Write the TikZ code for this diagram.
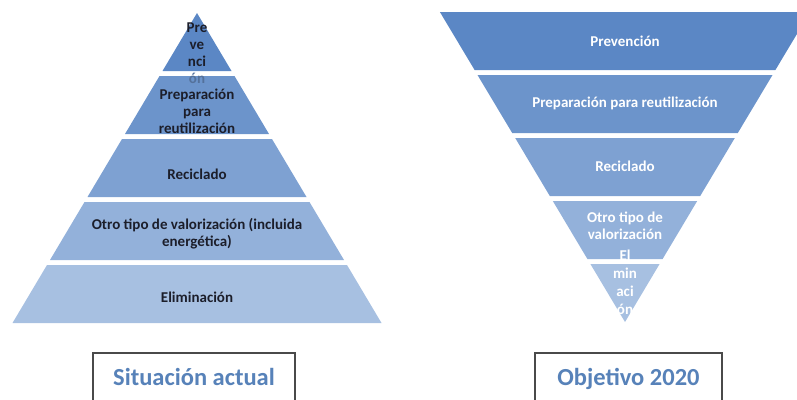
\documentclass[tikz,border=0pt]{standalone}
\usepackage{fontspec}
\setmainfont{Carlito}
\definecolor{lA}{HTML}{5B87C5}
\definecolor{lB}{HTML}{6C94CB}
\definecolor{lC}{HTML}{7EA1D2}
\definecolor{lD}{HTML}{93B1DA}
\definecolor{lE}{HTML}{A7C0E1}
\definecolor{darktxt}{HTML}{1C1E2A}
\definecolor{capblue}{HTML}{5782B9}
\definecolor{capline}{HTML}{4A4A4A}
\begin{document}
\begin{tikzpicture}[x=1pt,y=-1pt,
  layer/.style={fill=#1,draw=none},
  ltxt/.style={font=\bfseries\fontsize{15}{17}\selectfont,text=darktxt,align=center,inner sep=0pt},
  rtxt/.style={font=\bfseries\fontsize{15}{17}\selectfont,text=white,align=center,inner sep=0pt},
  capbox/.style={draw=capline,line width=1.3pt,fill=white,minimum width=#1,minimum height=52pt,inner sep=0pt,
    font=\bfseries\fontsize{24.5}{28}\selectfont,text=capblue,text height=17pt,text depth=5pt}]
\useasboundingbox (0,0) rectangle (797,399);
\clip (0,0) rectangle (797,399);
% ---------- left pyramid (Situacion actual) ----------
\fill[layer=lA] (197,13) -- ({197+34.5},71) -- ({197-34.5},71) -- cycle;
\fill[layer=lB] ({197-37.5},76) -- ({197+37.5},76) -- ({197+72},134) -- ({197-72},134) -- cycle;
\fill[layer=lC] ({197-75},139) -- ({197+75},139) -- ({197+109.5},197) -- ({197-109.5},197) -- cycle;
\fill[layer=lD] ({197-112.5},202) -- ({197+112.5},202) -- ({197+147},260) -- ({197-147},260) -- cycle;
\fill[layer=lE] ({197-150},265) -- ({197+150},265) -- ({197+184.5},323) -- ({197-184.5},323) -- cycle;
\node[ltxt] (l1) at (197,53) {Pre\\ve\\nci\\{\color{darktxt!30!lB}ón}};
\node[ltxt] (l2) at (197,111.5) {Preparación\\para\\reutilización};
\node[ltxt] (l3) at (197,174) {Reciclado};
\node[ltxt] (l4) at (197,234) {Otro tipo de valorización (incluida\\energética)};
\node[ltxt] (l5) at (197,297) {Eliminación};
% ---------- right inverted pyramid (Objetivo 2020) ----------
\fill[layer=lA] ({625-185.1},12) -- ({625+185.1},12) -- ({625+150.4},70) -- ({625-150.4},70) -- cycle;
\fill[layer=lB] ({625-147.5},75) -- ({625+147.5},75) -- ({625+112.8},133) -- ({625-112.8},133) -- cycle;
\fill[layer=lC] ({625-109.8},138) -- ({625+109.8},138) -- ({625+75.2},196) -- ({625-75.2},196) -- cycle;
\fill[layer=lD] ({625-72.2},201) -- ({625+72.2},201) -- ({625+37.6},259) -- ({625-37.6},259) -- cycle;
\fill[layer=lE] ({625-34.6},264) -- ({625+34.6},264) -- (625,322) -- cycle;
\node[rtxt] (r1) at (625,41) {Prevención};
\node[rtxt] (r2) at (625,103) {Preparación para reutilización};
\node[rtxt] (r3) at (625,166) {Reciclado};
\node[rtxt] (r4) at (625,225.5) {Otro tipo de\\valorización};
\node[rtxt,font=\bfseries\fontsize{15}{18}\selectfont] (r5) at (625,282) {El\\min\\aci\\ón};
% ---------- captions ----------
\node[capbox=202pt] (c1) at (194,379) {Situación actual};
\node[capbox=187pt] (c2) at (628.5,379) {Objetivo 2020};
\end{tikzpicture}
\end{document}
